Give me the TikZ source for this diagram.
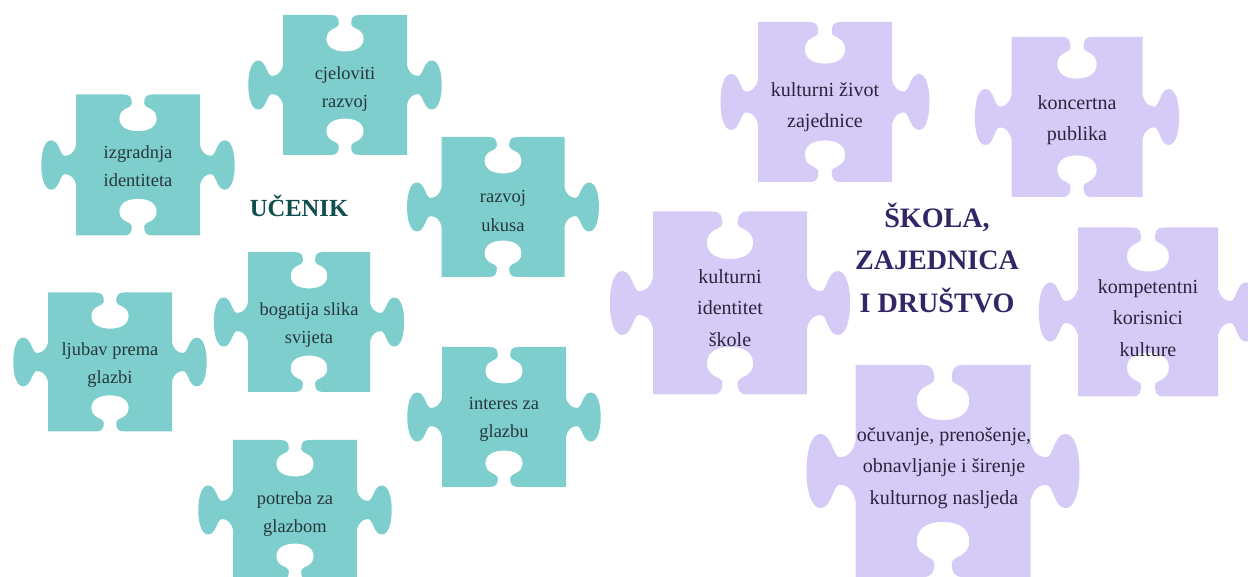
\documentclass[tikz,border=0pt]{standalone}
\usepackage{fontspec}
\setmainfont{Liberation Serif}
\definecolor{tealpiece}{RGB}{126,206,206}
\definecolor{lilacpiece}{RGB}{214,203,246}
\definecolor{tealtext}{RGB}{38,56,60}
\definecolor{lilactext}{RGB}{44,36,62}
\definecolor{tealdark}{RGB}{16,78,78}
\definecolor{lilacdark}{RGB}{52,38,102}
% one jigsaw piece: colour, centre x, centre y, body width, body height
\newcommand{\piece}[5]{%
\begin{scope}[shift={(#2,#3)}, xscale=#4/2, yscale=#5/2]
\fill[#1] (-1,1) -- (-0.23,1)
 .. controls (-0.12,1) and (-0.10,0.95) .. (-0.10,0.87)
 .. controls (-0.10,0.80) and (-0.30,0.82) .. (-0.30,0.66)
 .. controls (-0.30,0.53) and (-0.16,0.48) .. (0,0.48)
 .. controls (0.16,0.48) and (0.30,0.53) .. (0.30,0.66)
 .. controls (0.30,0.82) and (0.10,0.80) .. (0.10,0.87)
 .. controls (0.10,0.95) and (0.12,1) .. (0.23,1)
 -- (1,1) -- (1,0.28)
 .. controls (1.03,0.17) and (1.10,0.13) .. (1.18,0.13)
 .. controls (1.26,0.13) and (1.27,0.35) .. (1.40,0.35)
 .. controls (1.51,0.35) and (1.56,0.18) .. (1.56,0)
 .. controls (1.56,-0.18) and (1.51,-0.35) .. (1.40,-0.35)
 .. controls (1.27,-0.35) and (1.26,-0.13) .. (1.18,-0.13)
 .. controls (1.10,-0.13) and (1.03,-0.17) .. (1,-0.28)
 -- (1,-1) -- (0.23,-1)
 .. controls (0.12,-1) and (0.10,-0.95) .. (0.10,-0.87)
 .. controls (0.10,-0.80) and (0.30,-0.82) .. (0.30,-0.66)
 .. controls (0.30,-0.53) and (0.16,-0.48) .. (0,-0.48)
 .. controls (-0.16,-0.48) and (-0.30,-0.53) .. (-0.30,-0.66)
 .. controls (-0.30,-0.82) and (-0.10,-0.80) .. (-0.10,-0.87)
 .. controls (-0.10,-0.95) and (-0.12,-1) .. (-0.23,-1)
 -- (-1,-1) -- (-1,-0.28)
 .. controls (-1.03,-0.17) and (-1.10,-0.13) .. (-1.18,-0.13)
 .. controls (-1.26,-0.13) and (-1.27,-0.35) .. (-1.40,-0.35)
 .. controls (-1.51,-0.35) and (-1.56,-0.18) .. (-1.56,0)
 .. controls (-1.56,0.18) and (-1.51,0.35) .. (-1.40,0.35)
 .. controls (-1.27,0.35) and (-1.26,0.13) .. (-1.18,0.13)
 .. controls (-1.10,0.13) and (-1.03,0.17) .. (-1,0.28)
 -- cycle;
\end{scope}}
\tikzset{
 teal label/.style={align=center, text=tealtext, font=\fontsize{10.5}{16}\selectfont},
 lilac label/.style={align=center, text=lilactext, font=\fontsize{11.4}{18}\selectfont},
 teal title/.style={text=tealdark, font=\bfseries\fontsize{14}{17}\selectfont},
 lilac title/.style={align=center, text=lilacdark, font=\bfseries\fontsize{16}{24}\selectfont}
}
\begin{document}
\begin{tikzpicture}[x=0.02cm, y=-0.02cm]
\useasboundingbox (0,0) rectangle (1248,577);
\clip (0,0) rectangle (1248,577);
\fill[white] (0,0) rectangle (1248,577);
% learner side
\piece{tealpiece}{138}{165}{124}{141}
\piece{tealpiece}{345}{85}{124}{140}
\piece{tealpiece}{503}{207}{123}{140}
\piece{tealpiece}{309}{322}{122}{140}
\piece{tealpiece}{110}{362}{124}{139}
\piece{tealpiece}{295}{510}{124}{140}
\piece{tealpiece}{504}{417}{124}{140}
\node (identitet) [teal label] at (138,166) {izgradnja\\identiteta};
\node (razvoj) [teal label] at (345,89) {cjeloviti\\razvoj};
\node (ukus) [teal label] at (503,211) {razvoj\\ukusa};
\node (slika) [teal label] at (309,325) {bogatija slika\\svijeta};
\node (ljubav) [teal label] at (110,365) {ljubav prema\\glazbi};
\node (potreba) [teal label] at (295,514) {potreba za\\glazbom};
\node (interes) [teal label] at (504,419) {interes za\\glazbu};
\node (ucenik) [teal title] at (299,206) {UČENIK};
% school and community side
\piece{lilacpiece}{825}{102}{134}{160}
\piece{lilacpiece}{1077}{117}{131}{160}
\piece{lilacpiece}{730}{303}{154}{183}
\piece{lilacpiece}{1148}{312}{140}{169}
\piece{lilacpiece}{943}{471}{175}{212}
\node (zivot) [lilac label] at (825,107) {kulturni život\\zajednice};
\node (publika) [lilac label] at (1077,120) {koncertna\\publika};
\node (skola) [lilac label] at (730,308) {kulturni\\identitet\\škole};
\node (korisnici) [lilac label] at (1148,318) {kompetentni\\korisnici\\kulture};
\node (nasljede) [lilac label] at (944,468) {očuvanje, prenošenje,\\obnavljanje i širenje\\kulturnog nasljeda};
\node (drustvo) [lilac title] at (937,258) {ŠKOLA,\\ZAJEDNICA\\I DRUŠTVO};
\end{tikzpicture}
\end{document}
